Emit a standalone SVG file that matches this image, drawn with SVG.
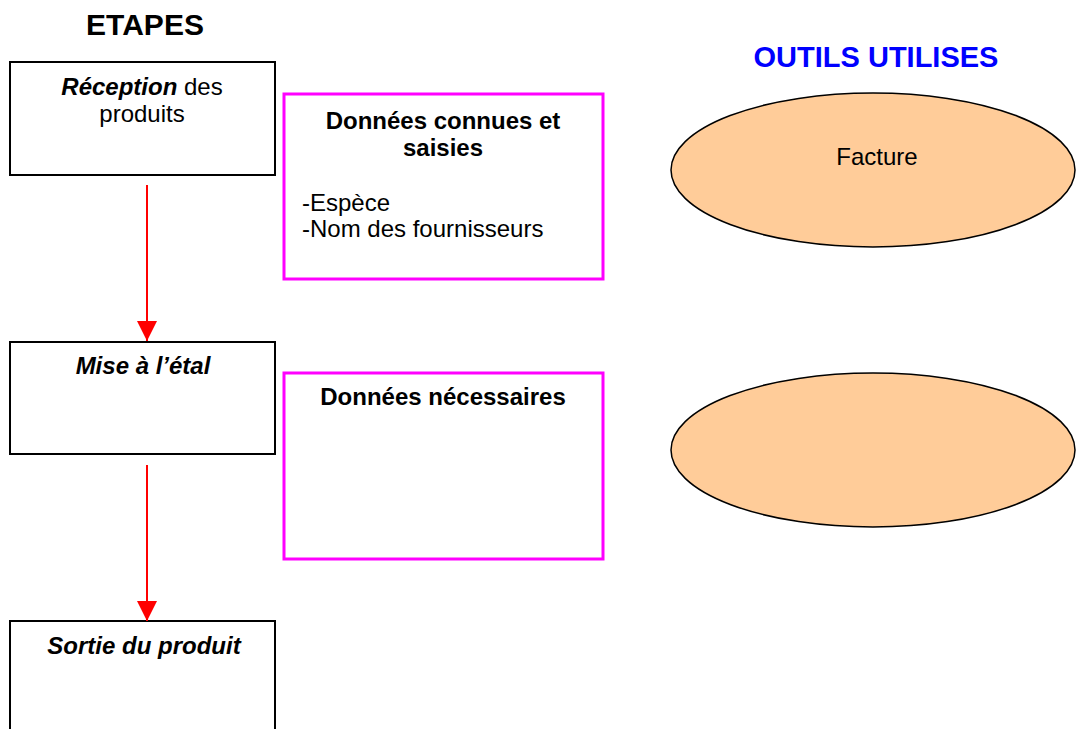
<svg xmlns="http://www.w3.org/2000/svg" width="1076" height="729" viewBox="0 0 1076 729">
  <defs>
    <marker id="arrow" viewBox="0 0 20 20" refX="20" refY="10" markerWidth="20" markerHeight="20" markerUnits="userSpaceOnUse" orient="auto">
      <path d="M0,0 L20,10 L0,20 Z" fill="#ff0000"/>
    </marker>
    <style>
      text { font-family: "Liberation Sans", Arial, sans-serif; fill: #000; }
      .title { font-size: 30px; font-weight: bold; text-anchor: middle; }
      .blue { fill: #0000ff; font-size: 29px; }
      .body { font-size: 24px; }
      .mid { text-anchor: middle; }
      .b { font-weight: bold; }
      .bi { font-weight: bold; font-style: italic; }
      .step { fill: #fff; stroke: #000; stroke-width: 2; }
      .data { fill: #fff; stroke: #ff00ff; stroke-width: 3; }
      .tool { fill: #ffcc99; stroke: #000; stroke-width: 1.5; }
      .flow { stroke: #ff0000; stroke-width: 2; fill: none; marker-end: url(#arrow); }
    </style>
  </defs>

  <rect width="1076" height="729" fill="#fff"/>

  <!-- column headings -->
  <text class="title" x="145" y="35">ETAPES</text>
  <text class="title blue" x="876" y="67">OUTILS UTILISES</text>

  <!-- steps -->
  <g id="step-reception">
    <rect class="step" x="10" y="62" width="265" height="113"/>
    <text class="body mid" x="142" y="95"><tspan class="bi">Réception</tspan> des</text>
    <text class="body mid" x="142" y="122">produits</text>
  </g>

  <g id="step-etal">
    <rect class="step" x="10" y="342" width="265" height="112"/>
    <text class="body mid bi" x="143" y="374">Mise à l’étal</text>
  </g>

  <g id="step-sortie">
    <rect class="step" x="10" y="621" width="265" height="130"/>
    <text class="body mid bi" x="144" y="654">Sortie du produit</text>
  </g>

  <!-- data boxes -->
  <g id="data-connues">
    <rect class="data" x="284" y="94" width="319" height="185"/>
    <text class="body mid b" x="443" y="129">Données connues et</text>
    <text class="body mid b" x="443" y="156">saisies</text>
    <text class="body" x="302" y="211">-Espèce</text>
    <text class="body" x="302" y="237">-Nom des fournisseurs</text>
  </g>

  <g id="data-necessaires">
    <rect class="data" x="284" y="373" width="319" height="186"/>
    <text class="body mid b" x="443" y="405">Données nécessaires</text>
  </g>

  <!-- tools -->
  <g id="tool-facture">
    <ellipse class="tool" cx="873" cy="170" rx="202" ry="77"/>
    <text class="body mid" x="877" y="165">Facture</text>
  </g>

  <g id="tool-empty">
    <ellipse class="tool" cx="873" cy="450" rx="202" ry="77"/>
  </g>

  <!-- flow between steps -->
  <g id="connectors">
    <line class="flow" x1="147" y1="185" x2="147" y2="341"/>
    <line class="flow" x1="147" y1="465" x2="147" y2="621"/>
  </g>
</svg>
